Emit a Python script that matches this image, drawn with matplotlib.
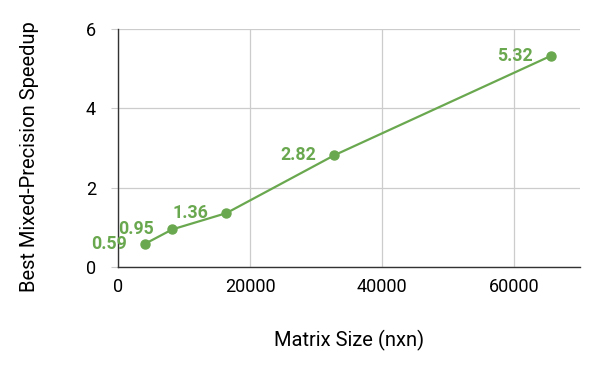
import matplotlib.pyplot as plt

plt.rcParams['font.family'] = ['Roboto', 'DejaVu Sans']

# matrix sizes and best mixed-precision speedup
matrix_size = [4096, 8192, 16384, 32768, 65536]
speedup = [0.59, 0.95, 1.36, 2.82, 5.32]
point_labels = ["0.59", "0.95", "1.36", "2.82", "5.32"]

green = "#6aa84f"

fig = plt.figure(figsize=(6, 3.71), dpi=100)
ax = fig.add_axes([0.197, 0.280, 0.770, 0.642])

ax.plot(matrix_size, speedup, '-', color=green, linewidth=1.6, zorder=3)
ax.plot(matrix_size, speedup, 'o', color=green, markersize=6.5, zorder=4)

for x, y, lab in zip(matrix_size, speedup, point_labels):
    ax.annotate(lab, (x, y), xytext=(-18, 0), textcoords='offset pixels',
                ha='right', va='center', color=green, fontsize=12.8,
                fontweight='bold', zorder=5)

ax.set_xlim(0, 70000)
ax.set_ylim(0, 6)
ax.set_xticks([0, 20000, 40000, 60000])
ax.set_yticks([0, 2, 4, 6])
ax.grid(True, color='#cccccc', linewidth=0.9)
ax.set_axisbelow(True)

for side in ['top', 'right']:
    ax.spines[side].set_visible(False)
for side in ['left', 'bottom']:
    ax.spines[side].set_color('#333333')
    ax.spines[side].set_linewidth(1.0)

ax.tick_params(axis='y', length=5, color='#cccccc', labelsize=13, pad=11)
ax.tick_params(axis='x', length=0, labelsize=13, pad=8)

ax.set_xlabel("Matrix Size (nxn)", fontsize=14.5, labelpad=24)
ax.set_ylabel("Best Mixed-Precision Speedup", fontsize=14.5)
ax.yaxis.set_label_coords(-0.172, 0.466)

fig.savefig("out.png", dpi=100)
